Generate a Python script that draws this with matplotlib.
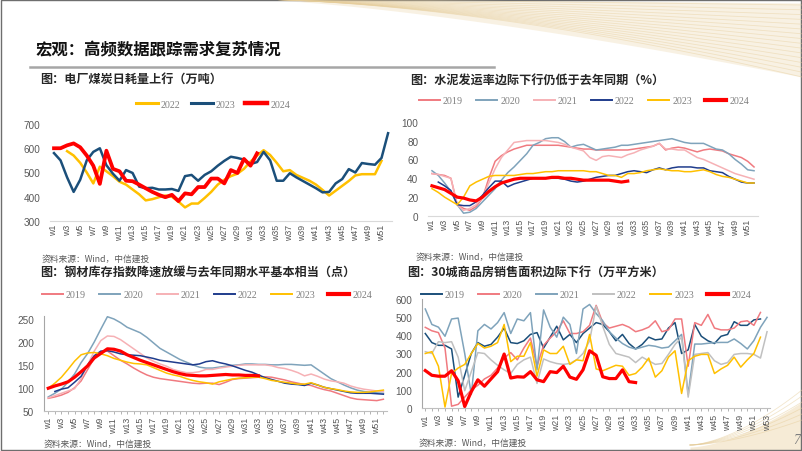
import numpy as np
import matplotlib.pyplot as plt
from matplotlib.lines import Line2D
from matplotlib.patches import Rectangle

W, H = 802, 452
nan = np.nan

plt.rcParams['font.family'] = ['Liberation Sans', 'Noto Sans CJK SC', 'DejaVu Sans']
CJK = ['Noto Sans CJK SC', 'DejaVu Sans']
SERIF = ['Liberation Serif', 'DejaVu Serif']
TICK_C = '#595959'

# ---- data: coal consumption (10k t), weeks 1..52 ----
coal_2022 = [nan, nan, 588, 570, 540, 500, 455, 524, 505, 485,
             462, 450, 430, 410, 385, 390, 398, 405, 400, 380,
             356, 372, 372, 395, 420, 450, 470, 485, 495, 515,
             545, 570, 592, 572, 540, 505, 510, 490, 478, 466,
             450, 428, 405, 425, 445, 465, 488, 493, 493, 493,
             548, nan]
coal_2023 = [580, 550, 480, 420, 470, 550, 585, 600, 530, 495,
             466, 510, 498, 442, 435, 437, 430, 430, 432, 424,
             485, 490, 466, 490, 505, 528, 548, 565, 560, 553,
             535, 543, 585, 550, 466, 466, 497, 480, 465, 450,
             435, 418, 420, 455, 473, 514, 500, 539, 535, 532,
             560, 662]
coal_2024 = [600, 600, 612, 620, 604, 570, 528, 453, 590, 515,
             505, 466, 464, 450, 435, 420, 408, 398, 408, 382,
             414, 410, 440, 440, 475, 475, 455, 510, 498, 556,
             528, 579]

# ---- data: cement shipment rate (%) ----
cem_2019 = [45, 44, 43, 40, 12, 8, 6, 10, 19, 40,
            58, 64, 68, 71, 73, 75, 75, 75, 75, 75,
            75, 74, 73, 72, 71, 71, 70, 70, 70, 70,
            70, 70, 71, 72, 73, 74, 77, 70, 72, 73,
            72, 70, 68, 70, 71, 70, 69, 66, 64, 62,
            58, 52]
cem_2020 = [48, 43, 35, 26, 12, 3, 4, 8, 15, 22,
            29, 38, 46, 52, 59, 66, 75, 78, 82, 83,
            83, 79, 73, 75, 76, 73, 70, 71, 72, 73,
            75, 75, 76, 77, 78, 79, 80, 81, 82, 80,
            78, 77, 77, 77, 74, 71, 70, 66, 60, 55,
            49, 48]
cem_2021 = [45, 44, 42, 40, 12, 6, 8, 12, 20, 35,
            50, 62, 70, 78, 79, 80, 80, 80, 80, 79,
            78, 76, 73, 71, 69, 62, 59, 63, 64, 63,
            62, 65, 67, 70, 72, 74, 77, 71, 71, 70,
            70, 66, 62, 60, 57, 54, 51, 48, 45, 43,
            41, 39]
cem_2022 = [nan, 36, 32, 27, 12, 11, 11, 15, 22, 30,
            37, 37, 31, 34, 36, 38, 40, 40, 40, 40,
            40, 39, 37, 36, 37, 39, 41, 42, 43, 43,
            45, 47, 48, 47, 46, 49, 51, 49, 51, 52,
            52, 52, 51, 51, 48, 47, 46, 42, 39, 36,
            35, 35]
cem_2023 = [29, 25, 20, 16, 12, 20, 32, 36, 39, 42,
            43, 43, 43, 43, 44, 45, 45, 46, 47, 47,
            48, 48, 48, 48, 48, 47, 47, 45, 43, 43,
            41, 45, 45, 46, 48, 49, 50, 49, 48, 48,
            47, 47, 48, 49, 47, 44, 42, 41, 39, 37,
            35, 35]
cem_2024 = [32, 30, 28, 24, 20, 19, 17, 16, 20, 26,
            31, 35, 37, 39, 40, 40, 40, 40, 40, 41,
            41, 40, 40, 39, 38, 38, 38, 38, 38, 37,
            36, 37]

# ---- data: steel inventory index (pts) ----
stl_2019 = [77, 80, 84, 90, 100, 115, 140, 165, 178, 180,
            170, 160, 152, 143, 135, 128, 123, 120, 118, 116,
            114, 112, 110, 109, 110, 110, 107, 112, 118, 120,
            121, 122, 123, 124, 123, 120, 117, 113, 110, 107,
            105, 100, 96, 93, 88, 83, 78, 75, 74, 73,
            72, 75]
stl_2020 = [80, 88, 97, 112, 130, 155, 175, 200, 228, 255,
            250, 242, 232, 226, 220, 210, 198, 186, 178, 170,
            162, 156, 150, 145, 143, 143, 145, 147, 149, 150,
            152, 152, 151, 151, 150, 150, 151, 151, 150, 149,
            150, 140, 130, 120, 113, 106, 100, 95, 92, 90,
            89, 88]
stl_2021 = [78, 83, 88, 93, 98, 120, 150, 180, 203, 213,
            212, 205, 195, 185, 175, 165, 158, 152, 147, 140,
            136, 133, 133, 135, 140, 140, 143, 145, 147, 149,
            150, 150, 150, 150, 148, 144, 142, 138, 133, 126,
            130, 125, 119, 115, 113, 110, 104, 100, 97, 95,
            93, 92]
stl_2022 = [nan, 92, 97, 100, 112, 125, 150, 170, 180, 181,
            178, 174, 172, 171, 170, 167, 164, 160, 158, 156,
            154, 152, 150, 152, 157, 159, 155, 152, 148, 143,
            138, 134, 128, 122, 118, 114, 110, 108, 107, 105,
            110, 106, 101, 98, 95, 92, 89, 88, 88, 88,
            87, 86]
stl_2023 = [99, 110, 123, 140, 158, 172, 176, 177, 174, 170,
            164, 160, 156, 153, 152, 150, 144, 138, 132, 128,
            125, 120, 116, 113, 111, 108, 113, 116, 119, 121,
            122, 123, 123, 120, 116, 114, 112, 110, 108, 108,
            111, 106, 101, 98, 96, 93, 91, 90, 90, 91,
            93, 95]
stl_2024 = [99, 104, 108, 113, 123, 135, 148, 165, 175, 185,
            184, 180, 172, 166, 160, 155, 150, 145, 140, 135,
            131, 128, 127, 126, 126, 127, 128, 129, 128, 128,
            127, 127, 126]

# ---- data: 30-city housing sales area (10k m2) ----
hs_2019 = [410, 360, 345, 345, 325, 60, 180, 300, 360, 340,
           350, 390, 440, 360, 355, 370, 405, 415, 330, 390,
           450, 375, 405, 360, 410, 440, 470, 460, 420, 370,
           405, 355, 325, 350, 390, 375, 380, 440, 470, 300,
           320, 460, 395, 370, 355, 395, 405, 475, 455, 455,
           485, 490]
hs_2020 = [444, 425, 415, 330, 10, 20, 60, 100, 125, 160,
           180, 220, 275, 305, 265, 330, 385, 230, 345, 385,
           420, 480, 410, 410, 420, 455, 565, 470, 440, 450,
           460, 445, 420, 430, 445, 480, 420, 430, 490, 490,
           230, 470, 455, 515, 440, 430, 430, 440, 475, 480,
           455, 526]
hs_2021 = [545, 460, 445, 395, 490, 495, 300, 75, 425, 460,
           435, 470, 525, 410, 490, 480, 525, 210, 540, 445,
           390, 500, 460, 300, 545, 570, 520, 480, 420, 385,
           355, 335, 325, 335, 345, 340, 330, 335, 370, 405,
           75, 352, 352, 356, 360, 361, 361, 380, 355, 325,
           371, 444, 499]
hs_2022 = [310, 300, 365, 360, 365, 280, 95, 200, 305, 300,
           265, 235, 210, 190, 240, 265, 280, 135, 270, 255,
           245, 240, 245, 265, 300, 370, 560, 450, 350, 300,
           290, 280, 250, 280, 260, 240, 245, 295, 350, 390,
           60, 295, 300, 305, 260, 240, 250, 295, 300, 300,
           295, 275, 420]
hs_2023 = [300, 310, 230, 5, 190, 220, 240, 300, 355, 330,
           340, 360, 460, 255, 285, 285, 360, 175, 320, 300,
           300, 340, 240, 265, 260, 405, 215, 205, 220, 235,
           230, 180, 190, 225, 275, 170, 205, 280, 315, 80,
           260, 285, 295, 295, 190, 215, 235, 280, 225, 265,
           300, 390]
hs_2024 = [206, 180, 175, 175, 205, 150, 8, 90, 155, 120,
           160, 200, 297, 165, 172, 170, 200, 155, 145, 200,
           195, 230, 170, 158, 210, 315, 290, 172, 162, 162,
           210, 145, 140]

YEARS_3 = ['2022', '2023', '2024']
YEARS_6 = ['2019', '2020', '2021', '2022', '2023', '2024']

C_YEL, C_RED = '#FFC000', '#FF0000'
C_CORAL, C_GREYBLUE, C_PINK = '#F07A80', '#7FA3BB', '#F6B1B5'
C_NAVY, C_DEEP, C_GREY = '#1F3C8C', '#1B4F7A', '#C0C0C0'


def box(l, t, r, b):
    return [l / W, 1 - b / H, (r - l) / W, (b - t) / H]


def plot_series(ax, series, colors, widths):
    for s, c, lw in zip(series, colors, widths):
        y = np.array(s, dtype=float)
        ax.plot(np.arange(1, len(y) + 1), y, color=c, lw=lw, solid_joinstyle='round')


def style_axis(ax, last_week, yticks, ticks_out=False, left_spine=False):
    for sp in ['top', 'right', 'left']:
        ax.spines[sp].set_visible(False)
    ax.spines['bottom'].set_color('#BFBFBF' if ticks_out else '#D9D9D9')
    ax.spines['bottom'].set_linewidth(0.8)
    if left_spine:
        ax.spines['left'].set_visible(True)
        ax.spines['left'].set_color('#A6A6A6')
        ax.spines['left'].set_linewidth(0.8)
    wk = np.arange(1, last_week + 1, 2)
    ax.set_xticks(wk)
    ax.set_xticklabels([f'w{w}' for w in wk], rotation=90)
    if ticks_out:
        ax.set_xticks(np.arange(1, last_week + 1), minor=True)
        ax.tick_params(axis='x', which='both', length=2.5, width=0.6, color='#A6A6A6', direction='out')
    else:
        ax.tick_params(axis='x', length=0)
    ax.tick_params(axis='x', labelsize=6.3, labelcolor=TICK_C, pad=2)
    ax.set_yticks(yticks)
    ax.tick_params(axis='y', length=0, labelsize=7.2, labelcolor=TICK_C, pad=7)
    ax.set_facecolor('none')


def add_legend(ax, labels, colors, widths, cx, cy, hl=2.1, cs=1.35):
    handles = [Line2D([], [], color=c, lw=lw) for c, lw in zip(colors, widths)]
    ax.legend(handles, labels, loc='center', bbox_to_anchor=(cx / W, 1 - cy / H),
              bbox_transform=ax.figure.transFigure, ncol=len(labels), frameon=False,
              prop={'family': SERIF, 'size': 7.2}, labelcolor='#7F7F7F',
              handlelength=hl, handletextpad=0.3, columnspacing=cs, borderaxespad=0)


fig = plt.figure(figsize=(W / 100, H / 100), dpi=100, facecolor='white')

# ---- slide backdrop ----
bg = fig.add_axes([0, 0, 1, 1], zorder=-5)
bg.set_xlim(0, W)
bg.set_ylim(H, 0)
bg.axis('off')
xs = np.linspace(250, W, 300)
ts = (xs - 250) / (W - 250)
bg.fill_between(xs, 4 * ts ** 1.5, 78 * ts ** 1.4, color='#F7EEDC', lw=0, alpha=0.8)
for i in range(16):
    d = 6 + 4.8 * i
    bg.plot(xs, d * ts ** (1.2 + 0.03 * i), color='#E6CD9A', lw=0.6, alpha=0.45)
xb = np.linspace(690, W, 100)
tb = (xb - 690) / (W - 690)
bg.fill_between(xb, H - 4 - 45 * tb ** 1.6, H, color='#F4E6CC', lw=0, alpha=0.8)
for i in range(6):
    bg.plot(xb, H - 6 - (25 + 6 * i) * tb ** 1.6, color='#E6CD9A', lw=0.6, alpha=0.5)
bg.add_patch(Rectangle((0.5, 0.5), W - 1.5, H - 1.5, fill=False, edgecolor='#6E6E6E', lw=1))
bg.plot([30, 494], [68, 68], color='#A6A6A6', lw=1.8)

fig.text(35 / W, 1 - 50 / H, '宏观：高频数据跟踪需求复苏情况', family=CJK, fontsize=11.8,
         fontweight='bold', color='#111111', va='center', ha='left')

sub_kw = dict(family=CJK, fontsize=8.7, fontweight='bold', color='#262626', va='center', ha='left')
fig.text(40 / W, 1 - 79 / H, '图：电厂煤炭日耗量上行（万吨）', **sub_kw)
fig.text(410 / W, 1 - 80 / H, '图：水泥发运率边际下行仍低于去年同期（%）', **sub_kw)
fig.text(40 / W, 1 - 272 / H, '图：钢材库存指数降速放缓与去年同期水平基本相当（点）', **sub_kw)
fig.text(407 / W, 1 - 272 / H, '图：30城商品房销售面积边际下行（万平方米）', **sub_kw)

src_kw = dict(family=CJK, fontsize=6.3, color='#595959', va='center', ha='left', style='italic')
for sx, sy in [(42, 259), (416, 257), (44, 444), (419, 443)]:
    fig.text(sx / W, 1 - sy / H, '资料来源：Wind，中信建投', **src_kw)
fig.text(797 / W, 1 - 441 / H, '7', fontsize=10, color='#7F7F7F', style='italic',
         va='center', ha='center', family=SERIF)

# ---- chart 1: coal ----
ax1 = fig.add_axes(box(50, 125, 392, 222))
cols1 = [C_YEL, C_DEEP, C_RED]
lws1 = [1.8, 1.8, 2.7]
plot_series(ax1, [coal_2022, coal_2023, coal_2024], cols1, lws1)
ax1.set_xlim(0.39, 52.6)
ax1.set_ylim(300, 700)
style_axis(ax1, 52, [300, 400, 500, 600, 700])
add_legend(ax1, YEARS_3, cols1, [2.2, 2.2, 3.2], 213, 105, hl=2.2, cs=1.0)

# ---- chart 2: cement ----
ax2 = fig.add_axes(box(428, 122.7, 758, 217))
cols6a = [C_CORAL, C_GREYBLUE, C_PINK, C_NAVY, C_YEL, C_RED]
lws6 = [1.1, 1.1, 1.1, 1.1, 1.1, 2.3]
plot_series(ax2, [cem_2019, cem_2020, cem_2021, cem_2022, cem_2023, cem_2024], cols6a, lws6)
ax2.set_xlim(0.37, 52.63)
ax2.set_ylim(0, 100)
style_axis(ax2, 52, [0, 20, 40, 60, 80, 100])
add_legend(ax2, YEARS_6, cols6a, [1.4] * 5 + [3.0], 584, 102)

# ---- chart 3: steel ----
ax3 = fig.add_axes(box(44, 316.8, 387, 411.7))
plot_series(ax3, [stl_2019, stl_2020, stl_2021, stl_2022, stl_2023, stl_2024], cols6a, lws6)
ax3.set_xlim(0.35, 52.55)
ax3.set_ylim(50, 257)
style_axis(ax3, 52, [50, 100, 150, 200, 250], ticks_out=True, left_spine=True)
add_legend(ax3, YEARS_6, cols6a, [1.4] * 5 + [3.0], 207, 296)

# ---- chart 4: housing ----
ax4 = fig.add_axes(box(422, 300, 770, 409))
cols6b = [C_DEEP, C_CORAL, C_GREYBLUE, C_GREY, C_YEL, C_RED]
plot_series(ax4, [hs_2019, hs_2020, hs_2021, hs_2022, hs_2023, hs_2024], cols6b, lws6)
ax4.set_xlim(0.5, 53.45)
ax4.set_ylim(0, 600)
style_axis(ax4, 53, [0, 100, 200, 300, 400, 500, 600], ticks_out=True, left_spine=True)
add_legend(ax4, YEARS_6, cols6b, [1.4] * 5 + [3.0], 586, 296)

fig.savefig('out.png', dpi=100, facecolor='white')
